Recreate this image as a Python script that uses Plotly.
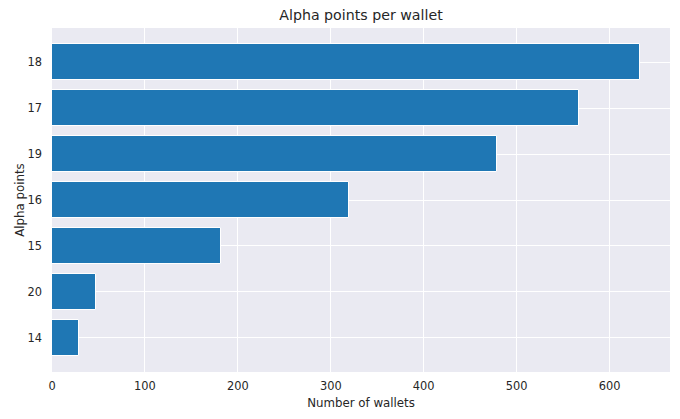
import plotly.graph_objects as go

# alpha point buckets, bottom to top as drawn
alpha_points = ["14", "20", "15", "16", "19", "17", "18"]
wallet_counts = [29, 47, 182, 320, 479, 567, 633]

# the page body adds an 8px offset, so the figure is sized and placed to allow for it
fig = go.Figure()
fig.add_trace(go.Bar(
    x=wallet_counts,
    y=alpha_points,
    orientation="h",
    width=0.8,
    marker=dict(color="#1f77b4", line=dict(color="white", width=1)),
))

fig.update_layout(
    width=672, height=411,
    margin=dict(l=44, r=10, t=20, b=47, autoexpand=False),
    paper_bgcolor="white",
    plot_bgcolor="#EAEAF2",
    font=dict(family="DejaVu Sans", size=11.4, color="#262626"),
    title=dict(text="Alpha points per wallet", x=0.5, xanchor="center", xref="paper",
               y=0.984, yanchor="middle", font=dict(size=14.2, color="#262626")),
    showlegend=False,
    bargap=0,
)
fig.update_xaxes(
    title=dict(text="Number of wallets", standoff=6, font=dict(size=11.8)),
    range=[0, 665], tickvals=[0, 100, 200, 300, 400, 500, 600],
    tickfont=dict(size=11.4),
    showgrid=True, gridcolor="white", gridwidth=1, zeroline=False,
    ticks="", showline=False, automargin=False, ticklabelstandoff=6,
)
fig.update_yaxes(
    title=dict(text="Alpha points", standoff=0, font=dict(size=11.8)),
    type="category", categoryorder="array", categoryarray=alpha_points,
    range=[-0.74, 6.74], tickfont=dict(size=11.4),
    showgrid=True, gridcolor="white", gridwidth=1, zeroline=False,
    ticks="", showline=False, automargin=False, ticklabelstandoff=9,
)

fig.write_html("out.html")
